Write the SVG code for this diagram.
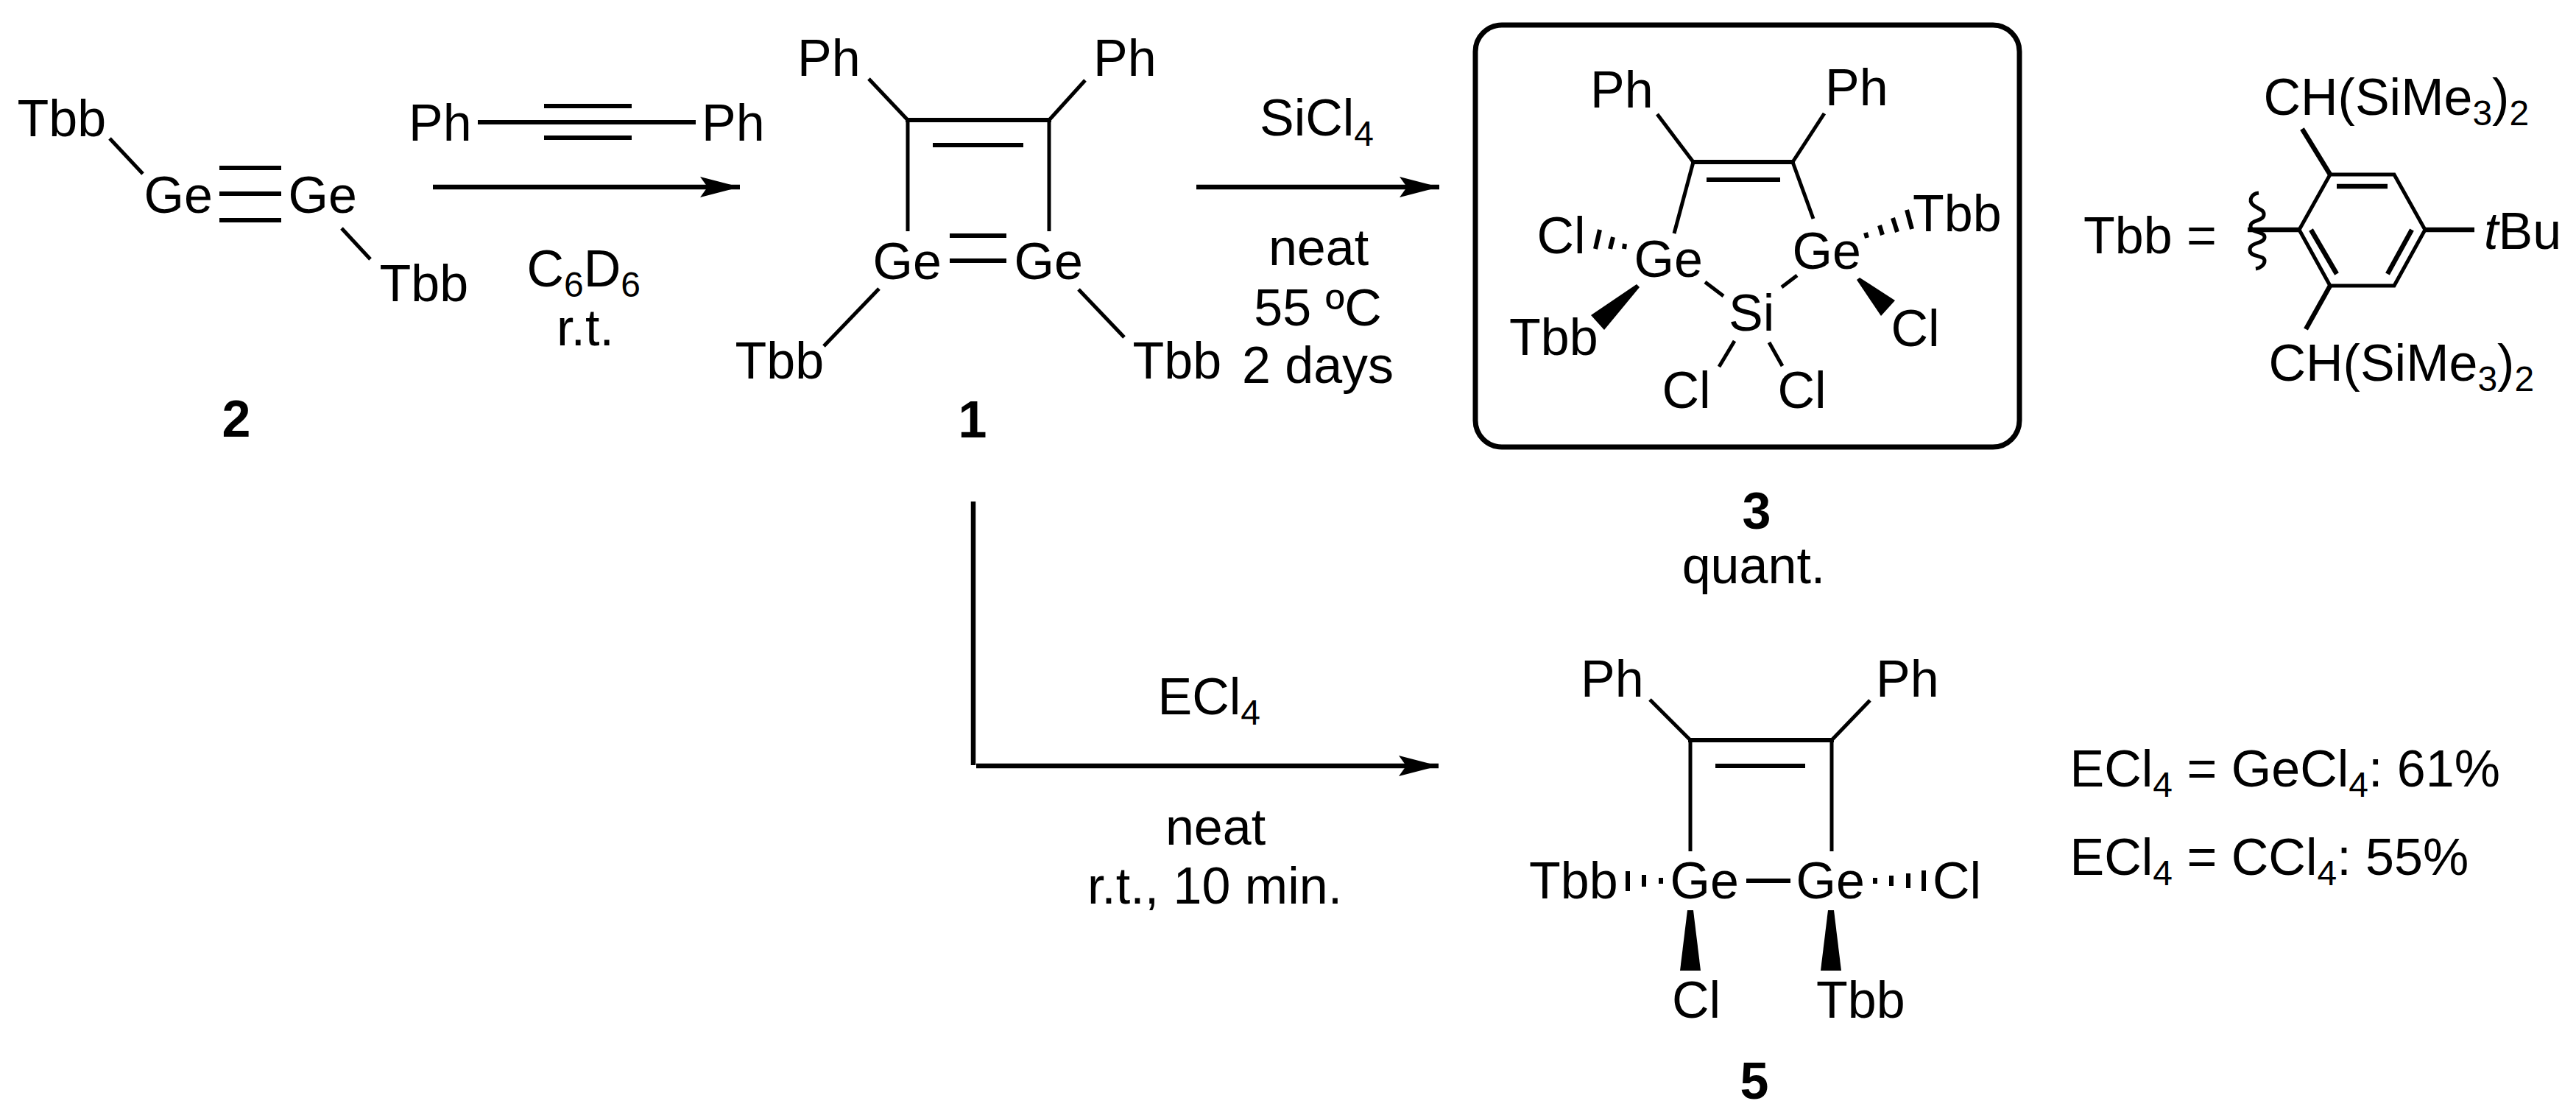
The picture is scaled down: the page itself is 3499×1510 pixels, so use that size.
<svg xmlns="http://www.w3.org/2000/svg" width="3499" height="1510" viewBox="0 0 3499 1510">
<style>
text{font-family:"Liberation Sans",Arial,sans-serif;font-size:70px;fill:#000}
.m{text-anchor:middle}
.b{font-weight:bold}
.s{font-size:48px}
.i{font-style:italic}
line,path.l{stroke:#000;stroke-width:5;fill:none;stroke-linecap:butt}
.d{stroke-width:6}
.t{stroke-width:6.5}
.h{stroke-width:6}
.arrow{stroke-width:6.5}
polygon{fill:#000}
</style>
<defs>
<marker id="ah" markerUnits="userSpaceOnUse" markerWidth="56" markerHeight="30" refX="54" refY="14" orient="auto"><path d="M0 0L54 14L0 28L10 14Z" fill="#000"/></marker>
</defs>
<rect width="3499" height="1510" fill="#fff"/>
<g id="connectors">
<line class="arrow" x1="588" y1="254" x2="1005" y2="254" marker-end="url(#ah)"/>
<line class="arrow" x1="1625" y1="254" x2="1955" y2="254" marker-end="url(#ah)"/>
<line class="arrow" x1="1322" y1="681" x2="1322" y2="1039"/>
<line class="arrow" x1="1326" y1="1040" x2="1954" y2="1040" marker-end="url(#ah)"/>
</g>
<g id="compound-2">
<text x="23.5" y="185">Tbb</text>
<line x1="149" y1="188" x2="194" y2="236"/>
<text x="195.5" y="289">Ge</text>
<line class="d" x1="298" y1="228" x2="382" y2="228"/>
<line class="d" x1="298" y1="263" x2="382" y2="263"/>
<line class="d" x1="298" y1="299" x2="382" y2="299"/>
<text x="391.5" y="289">Ge</text>
<line x1="464" y1="310" x2="503" y2="352"/>
<text x="515.5" y="409">Tbb</text>
<text class="b m" x="321" y="593">2</text>
</g>
<g id="reagent-alkyne">
<text x="555" y="191">Ph</text>
<line class="d" x1="649" y1="166" x2="945" y2="166"/>
<line class="d" x1="739" y1="144" x2="858" y2="144"/>
<line class="d" x1="739" y1="187" x2="858" y2="187"/>
<text x="953" y="191">Ph</text>
</g>
<g id="cond-1">
<text x="715.5" y="389">C<tspan class="s" dy="14">6</tspan><tspan dy="-14">D</tspan><tspan class="s" dy="14">6</tspan></text>
<text class="m" x="795" y="469">r.t.</text>
</g>
<g id="compound-1">
<text x="1083" y="103">Ph</text>
<text x="1485" y="103">Ph</text>
<line x1="1180" y1="107" x2="1233" y2="163"/>
<line x1="1474" y1="109" x2="1425" y2="163"/>
<line class="d" x1="1230" y1="163" x2="1428" y2="163"/>
<line class="d" x1="1267" y1="197" x2="1390" y2="197"/>
<line x1="1233" y1="163" x2="1233" y2="314"/>
<line x1="1425" y1="163" x2="1425" y2="314"/>
<text x="1185.5" y="379">Ge</text>
<text x="1377.5" y="379">Ge</text>
<line class="d" x1="1290" y1="320" x2="1367" y2="320"/>
<line class="d" x1="1290" y1="354" x2="1367" y2="354"/>
<line x1="1194" y1="392" x2="1119" y2="470"/>
<line x1="1465" y1="393" x2="1527" y2="458"/>
<text x="998.5" y="514">Tbb</text>
<text x="1538.5" y="514">Tbb</text>
<text class="b m" x="1321" y="594">1</text>
</g>
<g id="cond-2">
<text x="1711" y="184">SiCl<tspan class="s" dy="14">4</tspan></text>
<text class="m" x="1791" y="360">neat</text>
<text class="m" x="1790" y="442">55 ºC</text>
<text class="m" x="1790" y="520">2 days</text>
</g>
<g id="compound-3">
<rect x="2004" y="34" width="739" height="573" rx="36" fill="none" stroke="#000" stroke-width="7"/>
<text x="2160" y="146">Ph</text>
<text x="2479" y="143">Ph</text>
<line x1="2251" y1="155" x2="2300" y2="220"/>
<line x1="2478" y1="154" x2="2435" y2="220"/>
<line class="d" x1="2297" y1="220" x2="2438" y2="220"/>
<line class="d" x1="2318" y1="244" x2="2418" y2="244"/>
<line x1="2300" y1="220" x2="2274" y2="317"/>
<line x1="2435" y1="220" x2="2463" y2="297"/>
<text x="2219.5" y="376">Ge</text>
<text x="2434.5" y="365">Ge</text>
<text x="2348" y="449">Si</text>
<line x1="2316" y1="383" x2="2341" y2="402"/>
<line x1="2420" y1="390" x2="2441" y2="374"/>
<line x1="2356" y1="463" x2="2335" y2="498"/>
<line x1="2403" y1="465" x2="2421" y2="497"/>
<text x="2257.5" y="554">Cl</text>
<text x="2414.5" y="554">Cl</text>
<text x="2087.5" y="344">Cl</text>
<line class="h" x1="2173" y1="312" x2="2167" y2="338"/>
<line class="h" x1="2191" y1="322" x2="2187" y2="338"/>
<line class="h" x1="2207" y1="331" x2="2206" y2="338"/>
<polygon points="2223,386 2227,390 2179,448 2161,428"/>
<text x="2050" y="482">Tbb</text>
<polygon points="2522,380 2526,377 2574,408 2555,429"/>
<text x="2568.5" y="470">Cl</text>
<line class="h" x1="2590" y1="285" x2="2597" y2="311"/>
<line class="h" x1="2571" y1="296" x2="2577" y2="315"/>
<line class="h" x1="2553" y1="306" x2="2557" y2="319"/>
<line class="h" x1="2534" y1="316" x2="2536" y2="323"/>
<text x="2598" y="314">Tbb</text>
<text class="b m" x="2386" y="718">3</text>
<text class="m" x="2382" y="792">quant.</text>
</g>
<g id="tbb-legend">
<text x="2830" y="344">Tbb =</text>
<text x="3074.5" y="156">CH(SiMe<tspan class="s" dy="14">3</tspan><tspan dy="-14">)</tspan><tspan class="s" dy="14">2</tspan></text>
<text x="3081.5" y="517">CH(SiMe<tspan class="s" dy="14">3</tspan><tspan dy="-14">)</tspan><tspan class="s" dy="14">2</tspan></text>
<path class="l t" d="M3165 237L3252 237L3294 312L3252 388L3165 388L3123 312Z"/>
<line class="t" x1="3174" y1="253" x2="3243" y2="253"/>
<line class="t" x1="3139" y1="312" x2="3174" y2="372"/>
<line class="t" x1="3276" y1="312" x2="3243" y2="372"/>
<line class="t" x1="3165" y1="237" x2="3127" y2="175"/>
<line class="t" x1="3165" y1="388" x2="3132" y2="447"/>
<line class="t" x1="3294" y1="312" x2="3361" y2="312"/>
<line class="t" x1="3053" y1="312" x2="3123" y2="312"/>
<path class="l t" d="M3068 262C3058 263 3054 272 3060 278C3066 284 3076 284 3075 292C3074 301 3056 298 3057 308C3058 317 3076 314 3076 322C3076 332 3055 328 3056 340C3057 350 3076 346 3076 354C3076 360 3070 364 3064 365"/>
<text x="3374" y="338"><tspan class="i">t</tspan>Bu</text>
</g>
<g id="cond-3">
<text x="1572.5" y="970">ECl<tspan class="s" dy="14">4</tspan></text>
<text class="m" x="1651" y="1147">neat</text>
<text class="m" x="1650" y="1227">r.t., 10 min.</text>
</g>
<g id="compound-5">
<text x="2147" y="946">Ph</text>
<text x="2548" y="946">Ph</text>
<line x1="2241" y1="950" x2="2296" y2="1005"/>
<line x1="2540" y1="951" x2="2488" y2="1005"/>
<line class="d" x1="2293" y1="1005" x2="2491" y2="1005"/>
<line class="d" x1="2330" y1="1040" x2="2452" y2="1040"/>
<line x1="2296" y1="1005" x2="2296" y2="1156"/>
<line x1="2488" y1="1005" x2="2488" y2="1156"/>
<text x="2268.5" y="1220">Ge</text>
<text x="2439.5" y="1220">Ge</text>
<line class="d" x1="2372" y1="1196" x2="2432" y2="1196"/>
<text x="2077" y="1220">Tbb</text>
<line class="h" x1="2211" y1="1183" x2="2211" y2="1210"/>
<line class="h" x1="2233" y1="1188" x2="2233" y2="1204"/>
<line class="h" x1="2256" y1="1192" x2="2256" y2="1200"/>
<line class="h" x1="2547" y1="1192" x2="2547" y2="1200"/>
<line class="h" x1="2569" y1="1189" x2="2569" y2="1203"/>
<line class="h" x1="2592" y1="1186" x2="2592" y2="1206"/>
<line class="h" x1="2613" y1="1182" x2="2613" y2="1210"/>
<text x="2625" y="1220">Cl</text>
<polygon points="2292,1236 2300,1236 2310,1318 2282,1318"/>
<polygon points="2483,1236 2491,1236 2501,1318 2473,1318"/>
<text x="2271" y="1382">Cl</text>
<text x="2467" y="1382">Tbb</text>
<text class="b m" x="2383" y="1492">5</text>
</g>
<g id="yields">
<text x="2811.5" y="1068">ECl<tspan class="s" dy="14">4</tspan><tspan dy="-14"> = GeCl</tspan><tspan class="s" dy="14">4</tspan><tspan dy="-14">: 61%</tspan></text>
<text x="2811.5" y="1188">ECl<tspan class="s" dy="14">4</tspan><tspan dy="-14"> = CCl</tspan><tspan class="s" dy="14">4</tspan><tspan dy="-14">: 55%</tspan></text>
</g>
</svg>
